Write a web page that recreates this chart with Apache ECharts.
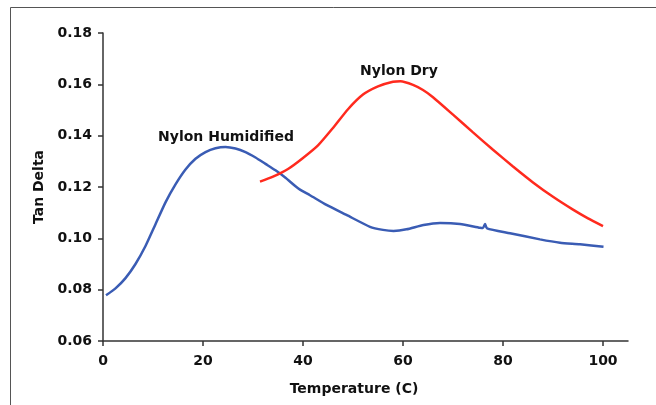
<!DOCTYPE html>
<html>
<head>
<meta charset="utf-8">
<script src="https://cdn.jsdelivr.net/npm/echarts@6/dist/echarts.min.js"></script>
<style>html,body{margin:0;padding:0;background:#fff;}#c{width:656px;height:405px;}</style>
</head>
<body>
<div id="c"></div>
<script>
var xTicks = [0, 20, 40, 60, 80, 100];
var yTicks = [0.06, 0.08, 0.10, 0.12, 0.14, 0.16, 0.18];

var humidified = [
  [0.6,0.0778],[2.5,0.0805],[4.5,0.0845],[6.5,0.0900],[8.5,0.0970],[10.5,0.1055],[12.5,0.1140],
  [14.5,0.1210],[16.5,0.1268],[18.5,0.1310],[20.5,0.1336],[22.5,0.1351],[24.5,0.1356],
  [26.5,0.1350],[28.5,0.1336],[30.5,0.1315],[32.5,0.1290],[34.5,0.1265],[36.5,0.1236],
  [38.5,0.1203],[39.4,0.1190],[41.4,0.1168],[44.7,0.1130],[48.7,0.1091],[53.4,0.1045],[56,0.1033],
  [58.1,0.1029],[60.7,0.1035],[64.1,0.1052],[67.4,0.1060],[71.4,0.1056],[75.4,0.1041],[76.0,0.1040],
  [76.4,0.1056],[76.8,0.1039],[81.4,0.1020],[87.4,0.0996],[91.4,0.0983],[95.4,0.0977],[100.1,0.0967]
];
var dry = [
  [31.4,0.1221],[34,0.1240],[37,0.1270],[40,0.1313],[43,0.1362],[46,0.1430],[49,0.1503],
  [52,0.1560],[55,0.1592],[58,0.1610],[59.5,0.1612],[62,0.1598],[64,0.1578],[66,0.1550],
  [70,0.1482],[74,0.1413],[78,0.1345],[82,0.1280],[86,0.1218],[90,0.1162],[94,0.1112],
  [97,0.1078],[100,0.1048]
];
var seriesNames = ['Nylon Humidified', 'Nylon Dry'];
var labelCoords = [[24.6, 0.1395], [59.2, 0.1652]];

var font = 'DejaVu Sans';
var chart = echarts.init(document.getElementById('c'), null, {renderer: 'canvas'});
function lbl(name, coord) {
  return {
    symbol: 'rect', symbolSize: 1,
    silent: true,
    itemStyle: {color: 'rgba(0,0,0,0)'},
    data: [{coord: coord}],
    label: {show: true, position: 'inside', formatter: name, color: '#111',
      fontFamily: font, fontWeight: 'bold', fontSize: 14}
  };
}
chart.setOption({
  animation: false,
  backgroundColor: '#fff',
  graphic: [{
    type: 'rect', shape: {x: 10.5, y: 7.5, width: 800, height: 600},
    style: {fill: 'none', stroke: '#555', lineWidth: 1}, silent: true
  }],
  grid: {left: 103, top: 33, width: 525, height: 308, containLabel: false},
  xAxis: {
    type: 'value', min: 0, max: 105,
    name: 'Temperature (C)', nameLocation: 'middle', nameGap: 41,
    nameTextStyle: {fontFamily: font, fontWeight: 'bold', fontSize: 14, color: '#111', padding: [0, 23, 0, 0]},
    axisLine: {show: true, onZero: false, lineStyle: {color: '#333', width: 1.5}},
    axisTick: {show: true, length: 5, customValues: xTicks, lineStyle: {color: '#333', width: 1.5}},
    axisLabel: {customValues: xTicks, margin: 13, fontFamily: font, fontWeight: 'bold', fontSize: 14, color: '#111'},
    splitLine: {show: false}
  },
  yAxis: {
    type: 'value', min: 0.06, max: 0.18,
    name: 'Tan Delta', nameLocation: 'middle', nameGap: 49, nameRotate: 90,
    nameTextStyle: {fontFamily: font, fontWeight: 'bold', fontSize: 14, color: '#111'},
    axisLine: {show: true, lineStyle: {color: '#333', width: 1.5}},
    axisTick: {show: true, length: 5, customValues: yTicks, lineStyle: {color: '#333', width: 1.5}},
    axisLabel: {customValues: yTicks, margin: 11, fontFamily: font, fontWeight: 'bold', fontSize: 14, color: '#111',
      formatter: function (v) { return v.toFixed(2); }},
    splitLine: {show: false}
  },
  series: [
    {name: seriesNames[0], type: 'line', data: humidified, showSymbol: false, smooth: 0.2,
      lineStyle: {color: '#3a5cb4', width: 2.5}, markPoint: lbl(seriesNames[0], labelCoords[0])},
    {name: seriesNames[1], type: 'line', data: dry, showSymbol: false, smooth: 0.2,
      lineStyle: {color: '#ff2a1e', width: 2.5}, markPoint: lbl(seriesNames[1], labelCoords[1])}
  ]
});
</script>
</body>
</html>
